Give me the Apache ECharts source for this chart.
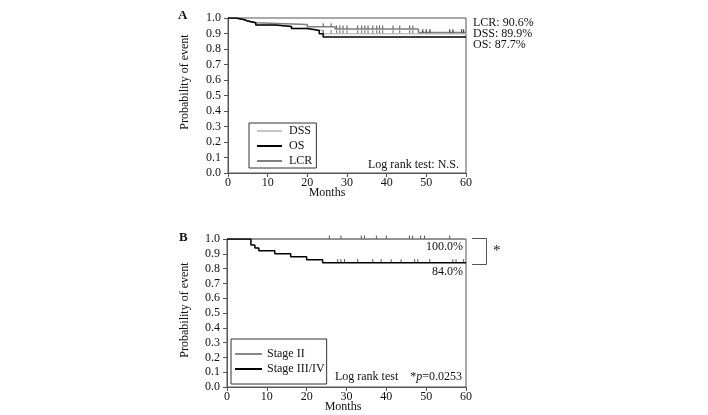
<!DOCTYPE html>
<html>
<head>
<meta charset="utf-8">
<script src="https://cdn.jsdelivr.net/npm/echarts@6/dist/echarts.min.js"></script>
<style>html,body{margin:0;padding:0;background:#fff}#c{width:708px;height:415px}</style>
</head>
<body>
<div id="c"></div>
<script>
// ---- data ----
const xTicks = [0, 10, 20, 30, 40, 50, 60];
const yTicks = [0, 0.1, 0.2, 0.3, 0.4, 0.5, 0.6, 0.7, 0.8, 0.9, 1.0];
// Panel A (month, probability)
const dssA = [[0,1],[2,0.99],[4,0.98],[5,0.97],[7,0.955],[12,0.945],[16,0.932],[20,0.92],[24,0.899],[60,0.899]];
const osA  = [[0,1],[2,0.99],[4,0.98],[5,0.97],[7,0.955],[12,0.945],[16,0.932],[20,0.92],[23,0.899],[24,0.877],[60,0.877]];
const lcrA = [[0,1],[2,0.99],[4,0.98],[5,0.97],[7,0.958],[20,0.944],[27,0.929],[48,0.906],[60,0.906]];
const censorA = [24,26,27.4,28.2,29,30,32.7,33.7,34.5,35.3,36.5,37.5,38.2,39,41.6,43.3,45.8,46.6,49.1,50,50.9,55.9,56.7,58.9,59.4];
const finalA = ['LCR: 90.6%', 'DSS: 89.9%', 'OS: 87.7%'];
// Panel B
const stage2 = [[0,1],[60,1]];
const stage34 = [[0,1],[6,0.96],[7,0.94],[8,0.92],[12,0.90],[16,0.88],[20,0.86],[24,0.84],[60,0.84]];
const censor2 = [25.7,28.6,33.7,34.5,37.5,40,45.8,46.6,48.6,49.6,55.9];
const censor34 = [24,27.8,28.6,29.5,32.8,36.6,38.7,41.2,43.7,47.1,47.9,50.9,56.7,57.5,59.4];
const finalB = ['100.0%', '84.0%'];

const FONT = 'Liberation Serif';
function valAt(curve, t) {
  let v = curve[0][1];
  for (const p of curve) { if (p[0] <= t) v = p[1]; }
  return v;
}
function marks(curve, times) { return times.map(t => [t, valAt(curve, t)]); }

function xAxis(gi) {
  return {
    type: 'value', gridIndex: gi, min: xTicks[0], max: xTicks[xTicks.length-1], interval: 10,
    axisLine: {show: true, lineStyle: {color: '#555', width: 1}},
    axisTick: {show: true, length: 4, lineStyle: {color: '#555'}},
    axisLabel: {fontFamily: FONT, fontSize: 12, color: '#111', margin: 4},
    splitLine: {show: false}
  };
}
function yAxis(gi) {
  return {
    type: 'value', gridIndex: gi, min: yTicks[0], max: yTicks[yTicks.length-1], interval: 0.1,
    axisLine: {show: true, lineStyle: {color: '#555', width: 1}},
    axisTick: {show: true, length: 4, lineStyle: {color: '#555'}},
    axisLabel: {fontFamily: FONT, fontSize: 12, color: '#111', margin: 7, formatter: v => v.toFixed(1)},
    splitLine: {show: false}
  };
}
function stepLine(name, data, color, width, gi, z) {
  return {name, type: 'line', step: 'end', data, xAxisIndex: gi, yAxisIndex: gi,
    symbol: 'none', lineStyle: {color, width}, itemStyle: {color}, z: z || 2, silent: true, animation: false};
}
function censor(data, color, gi) {
  return {type: 'scatter', data, xAxisIndex: gi, yAxisIndex: gi, symbol: 'rect',
    symbolSize: [1, 3], symbolOffset: [0, -2], itemStyle: {color}, silent: true, z: 5, animation: false};
}

const chart = echarts.init(document.getElementById('c'), null, {renderer: 'canvas'});
const F12 = '12px "' + FONT + '"';
const T = (x, y, text, align, extra) => ({type: 'text', x, y,
  style: Object.assign({text, font: F12, fill: '#111', align: align || 'left', verticalAlign: 'middle'}, extra || {})});

chart.setOption({
  animation: false,
  backgroundColor: '#fff',
  grid: [
    {left: 228, top: 18, width: 238, height: 155, show: true, borderColor: '#555', borderWidth: 1, backgroundColor: 'transparent'},
    {left: 227, top: 239, width: 239, height: 148, show: true, borderColor: '#555', borderWidth: 1, backgroundColor: 'transparent'}
  ],
  xAxis: [xAxis(0), xAxis(1)],
  yAxis: [yAxis(0), yAxis(1)],
  legend: [
    {data: [{name: 'DSS'}, {name: 'OS', itemStyle: {color: '#000'}}, {name: 'LCR'}], orient: 'vertical', left: 249, top: 123,
     icon: 'rect', itemWidth: 25, itemHeight: 2, itemGap: 1, selectedMode: false,
     padding: [1, 4, 0, 8], borderColor: '#333', borderWidth: 1,
     textStyle: {fontFamily: FONT, fontSize: 12, color: '#111', lineHeight: 14, padding: [0,0,0,2]}},
    {data: [{name: 'Stage II'}, {name: 'Stage III/IV'}], orient: 'vertical', left: 231, top: 339,
     icon: 'rect', itemWidth: 27, itemHeight: 2, itemGap: 1, selectedMode: false,
     padding: [8, 2, 8, 4], borderColor: '#333', borderWidth: 1,
     textStyle: {fontFamily: FONT, fontSize: 12, color: '#111', lineHeight: 14}}
  ],
  series: [
    stepLine('DSS', dssA, '#c4c4c4', 1.5, 0, 2),
    stepLine('LCR', lcrA, '#7f7f7f', 1.5, 0, 3),
    stepLine('OS', osA, '#000', 1.5, 0, 4),
    censor(marks(lcrA, censorA), '#222', 0),
    censor(marks(dssA, censorA), '#444', 0),
    stepLine('Stage II', stage2, '#888', 1.5, 1, 3),
    stepLine('Stage III/IV', stage34, '#000', 1.5, 1, 4),
    censor(marks(stage2, censor2), '#222', 1),
    censor(marks(stage34, censor34), '#222', 1)
  ],
  graphic: [
    T(178, 16, 'A', 'left', {font: 'bold 13px "' + FONT + '"'}),
    T(179, 238, 'B', 'left', {font: 'bold 13px "' + FONT + '"'}),
    Object.assign(T(185, 82, 'Probability of event', 'center'), {rotation: Math.PI/2}),
    Object.assign(T(185, 310, 'Probability of event', 'center'), {rotation: Math.PI/2}),
    T(327, 193, 'Months', 'center'),
    T(343, 407, 'Months', 'center'),
    T(459, 165, 'Log rank test: N.S.', 'right'),
    T(473, 23, finalA[0]),
    T(473, 34, finalA[1]),
    T(473, 45, finalA[2]),
    T(463, 247, finalB[0], 'right'),
    T(463, 272, finalB[1], 'right'),
    T(462, 377, 'Log rank test    *{i|p}=0.0253', 'right', {rich: {i: {fontStyle: 'italic', fontFamily: FONT, fontSize: 12}}}),
    {type: 'polyline', shape: {points: [[472, 238.5], [486.5, 238.5], [486.5, 264.5], [472, 264.5]]}, style: {stroke: '#555', lineWidth: 1, fill: null}},
    T(493, 251, '*', 'left', {font: '15px "' + FONT + '"'})
  ]
});
</script>
</body>
</html>
